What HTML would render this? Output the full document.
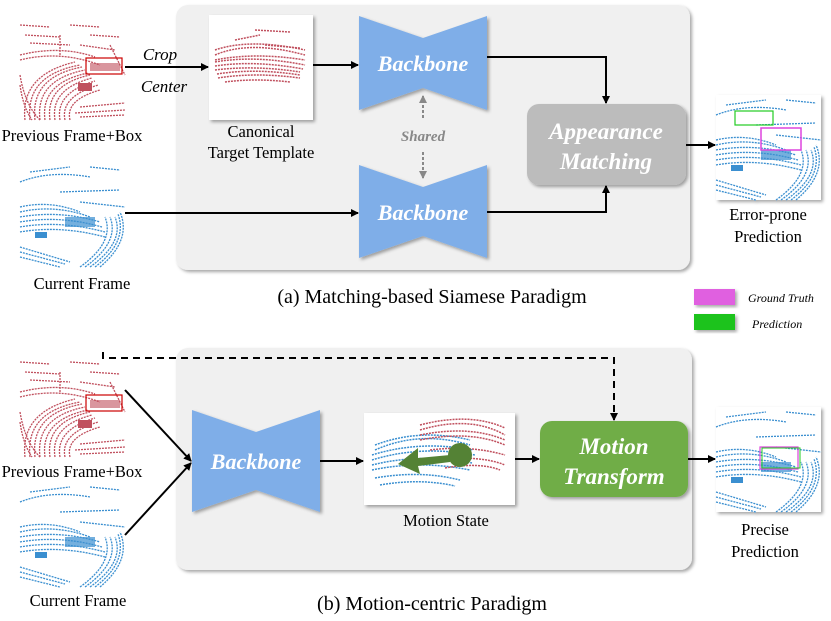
<!DOCTYPE html>
<html><head><meta charset="utf-8"><style>
body{margin:0;width:831px;height:621px;background:#fff;overflow:hidden;font-family:"Liberation Serif",serif;}
svg{display:block}
</style></head><body>
<svg width="831" height="621" viewBox="0 0 831 621" xmlns="http://www.w3.org/2000/svg">
<defs>
<marker id="ah" markerWidth="8" markerHeight="8" refX="7" refY="4" orient="auto" markerUnits="userSpaceOnUse"><path d="M0,0 L8,4 L0,8 z" fill="#000"/></marker>
<marker id="ag" markerWidth="8" markerHeight="8" refX="7" refY="4" orient="auto" markerUnits="userSpaceOnUse"><path d="M0,0 L8,4 L0,8 z" fill="#888"/></marker>
<filter id="sh" x="-10%" y="-10%" width="130%" height="130%"><feDropShadow dx="2" dy="2" stdDeviation="1.5" flood-opacity="0.35"/></filter>
<g id="red">
<rect width="105" height="105" fill="#fff"/>
<g fill="none" stroke="#c0505e" stroke-width="1.3" stroke-dasharray="2,1">
<path d="M0,45 Q40,35 80,50"/><path d="M0,40 Q40,30 75,42"/><path d="M5,20 L40,22 M50,10 L80,12 M60,30 L95,35 M0,10 L30,12 M10,28 L50,30 M70,20 L100,22"/>
<path d="M5,105 Q0,60 55,47"/><path d="M10,105 Q5,60 60,50"/><path d="M15,105 Q10,62 62,52"/><path d="M20,105 Q15,65 65,55"/><path d="M25,105 Q20,68 68,58"/><path d="M30,105 Q25,70 70,60"/><path d="M35,105 Q30,74 72,63"/><path d="M40,105 Q35,78 75,66"/><path d="M45,105 Q40,82 78,70"/><path d="M50,105 Q45,85 80,75"/>
<path d="M0,60 Q5,90 20,105"/><path d="M0,70 Q3,92 12,105"/><path d="M60,92 L105,88 M55,98 L105,95 M60,102 L105,100"/>
<path d="M40,20 L40,40 M90,30 L105,60"/>
</g>
<rect x="66" y="43" width="36" height="16" fill="none" stroke="#c00" stroke-width="1.2"/>
<rect x="70" y="48" width="30" height="8" fill="#c0505e" opacity=".6"/>
<rect x="58" y="68" width="14" height="8" fill="#c0505e"/>
</g>
<g id="blue">
<rect width="105" height="105" fill="#fff"/>
<g fill="none" stroke="#3a8fd0" stroke-width="1.3" stroke-dasharray="2,1">
<path d="M0,20 Q30,8 70,15"/><path d="M40,30 L100,28 M60,40 L105,45 M10,10 L50,5 M70,5 L100,8"/>
<path d="M0,45 Q30,38 60,50"/><path d="M0,50 Q35,42 70,55"/><path d="M0,55 Q40,48 80,60"/><path d="M0,60 Q40,53 82,65"/><path d="M0,65 Q40,58 85,70"/><path d="M0,70 Q40,63 85,75"/>
<path d="M60,105 Q95,80 85,55"/><path d="M65,105 Q100,80 90,55"/><path d="M70,105 Q105,80 95,55"/><path d="M75,105 Q108,80 98,52"/><path d="M80,105 Q112,78 100,50"/>
<path d="M0,85 L50,100 M0,95 L40,105 M0,90 L45,102"/>
</g>
<rect x="45" y="55" width="30" height="10" fill="#3a8fd0" opacity=".7"/>
<rect x="15" y="70" width="12" height="6" fill="#3a8fd0"/>
</g>
</defs>

<rect x="176" y="5" width="514" height="265" rx="12" fill="#f0f0f0" filter="url(#sh)"/>
<rect x="176" y="348" width="516" height="222" rx="12" fill="#f0f0f0" filter="url(#sh)"/>

<use href="#red" x="20" y="15"/>
<use href="#blue" x="20" y="162"/>
<use href="#red" x="20" y="352"/>
<use href="#blue" x="20" y="482"/>

<g filter="url(#sh)"><rect x="209" y="15" width="104" height="105" fill="#fff"/></g>
<g fill="none" stroke="#c0505e" stroke-width="1.5" stroke-dasharray="2,1">
<path d="M215,50 Q250,38 305,50"/><path d="M215,55 Q250,40 305,55"/><path d="M215,60 Q255,52 305,60"/><path d="M215,62 Q255,55 305,65"/><path d="M215,66 Q255,60 303,69"/><path d="M215,70 Q255,65 300,72"/><path d="M217,74 Q255,68 300,75"/><path d="M218,78 Q255,72 300,78"/><path d="M225,82 Q255,78 290,82"/><path d="M235,40 L260,35 M265,45 L300,48 M255,30 L290,32"/>
</g>

<g filter="url(#sh)"><use href="#blue" x="716" y="95"/></g>
<rect x="735" y="111" width="38" height="14" fill="none" stroke="#2c2" stroke-width="1.2"/>
<rect x="761" y="128" width="40" height="22" fill="none" stroke="#d4d" stroke-width="1.5"/>
<g filter="url(#sh)"><use href="#blue" x="716" y="407"/></g>
<rect x="760" y="447" width="38" height="22" fill="none" stroke="#d4d" stroke-width="1.2"/>
<rect x="762" y="448" width="38" height="20" fill="none" stroke="#2c2" stroke-width="1"/>

<g filter="url(#sh)"><rect x="364" y="413" width="151" height="92" fill="#fff"/></g>
<g fill="none" stroke-width="1.5" stroke-dasharray="2,1">
<path d="M375,445 Q420,428 470,440" stroke="#3a8fd0"/><path d="M375,450 Q420,430 470,445" stroke="#3a8fd0"/><path d="M372,455 Q420,440 473,450" stroke="#3a8fd0"/><path d="M372,460 Q420,445 475,455" stroke="#3a8fd0"/><path d="M372,465 Q420,453 472,463" stroke="#3a8fd0"/><path d="M372,470 Q420,460 470,470" stroke="#3a8fd0"/><path d="M375,478 Q420,470 460,480" stroke="#3a8fd0"/><path d="M380,485 Q420,478 455,486" stroke="#3a8fd0"/>
<path d="M420,425 Q470,412 505,428" stroke="#c0505e"/><path d="M420,430 Q470,415 505,435" stroke="#c0505e"/><path d="M420,435 Q470,425 505,440" stroke="#c0505e"/><path d="M420,440 Q470,430 505,445" stroke="#c0505e"/><path d="M430,450 Q470,445 505,455" stroke="#c0505e"/><path d="M440,460 Q480,455 505,465" stroke="#c0505e"/><path d="M445,468 Q480,462 500,470" stroke="#c0505e"/>
</g>
<path d="M398,464 L418,448 L418,458 L450,455 L450,462 L418,466 L420,474 Z" fill="#548235"/>
<circle cx="460" cy="455" r="12" fill="#548235"/>

<g fill="#7faee8" filter="url(#sh)">
<polygon points="359,16 423,38 487,16 487,110 423,88 359,110"/>
<polygon points="359,165 423,187 487,165 487,258 423,236 359,258"/>
<polygon points="192,410 256,432 320,410 320,512 256,490 192,512"/>
</g>
<g font-family="Liberation Serif,serif" font-style="italic" font-weight="bold" font-size="22" fill="#fff" text-anchor="middle">
<text x="423" y="71">Backbone</text>
<text x="423" y="220">Backbone</text>
<text x="256" y="469">Backbone</text>
</g>

<rect x="527" y="104" width="159" height="81" rx="12" fill="#bcbcbc" filter="url(#sh)"/>
<text x="606" y="139" text-anchor="middle" font-style="italic" font-weight="bold" font-size="23" fill="#fff">Appearance</text>
<text x="606" y="169" text-anchor="middle" font-style="italic" font-weight="bold" font-size="23" fill="#fff">Matching</text>

<rect x="540" y="421" width="148" height="76" rx="12" fill="#70ad47" filter="url(#sh)"/>
<text x="614" y="454" text-anchor="middle" font-style="italic" font-weight="bold" font-size="23" fill="#fff">Motion</text>
<text x="614" y="484" text-anchor="middle" font-style="italic" font-weight="bold" font-size="23" fill="#fff">Transform</text>

<g stroke="#000" stroke-width="2" fill="none" marker-end="url(#ah)">
<line x1="125" y1="67" x2="208" y2="67"/>
<line x1="313" y1="65" x2="358" y2="65"/>
<polyline points="487,57 606,57 606,103"/>
<line x1="125" y1="213" x2="358" y2="213"/>
<polyline points="487,212 606,212 606,186"/>
<line x1="686" y1="145" x2="715" y2="145"/>
<line x1="125" y1="390" x2="191" y2="461"/>
<line x1="125" y1="535" x2="191" y2="463"/>
<line x1="320" y1="461" x2="363" y2="461"/>
<line x1="515" y1="459" x2="539" y2="459"/>
<line x1="688" y1="459" x2="715" y2="459"/>
<polyline points="103,352 103,358 614,358 614,420" stroke-dasharray="7,5"/>
</g>
<g stroke="#888" stroke-width="2" stroke-dasharray="3,2" fill="none" marker-end="url(#ag)">
<line x1="423" y1="118" x2="423" y2="96"/>
<line x1="423" y1="152" x2="423" y2="178"/>
</g>
<text x="423" y="141" text-anchor="middle" font-style="italic" font-weight="bold" font-size="15" fill="#888">Shared</text>

<g font-size="16.5" fill="#000" text-anchor="middle">
<text x="72" y="141">Previous Frame+Box</text>
<text x="82" y="289">Current Frame</text>
<text x="261" y="137">Canonical</text>
<text x="261" y="158">Target Template</text>
<text x="768" y="220">Error-prone</text>
<text x="768" y="242">Prediction</text>
<text x="72" y="477">Previous Frame+Box</text>
<text x="78" y="606">Current Frame</text>
<text x="446" y="526">Motion State</text>
<text x="765" y="535">Precise</text>
<text x="765" y="557">Prediction</text>
</g>
<text x="160" y="60" font-style="italic" font-size="17" text-anchor="middle">Crop</text>
<text x="164" y="92" font-style="italic" font-size="17" text-anchor="middle">Center</text>
<text x="432" y="303" font-size="20" text-anchor="middle">(a) Matching-based Siamese Paradigm</text>
<text x="432" y="610" font-size="20" text-anchor="middle">(b) Motion-centric Paradigm</text>

<rect x="694" y="289" width="41" height="16" fill="#e060e0" filter="url(#sh)"/>
<rect x="694" y="314" width="41" height="16" fill="#1ec31e" filter="url(#sh)"/>
<text x="748" y="302" font-style="italic" font-size="12">Ground Truth</text>
<text x="752" y="328" font-style="italic" font-size="12">Prediction</text>
</svg>
</body></html>
